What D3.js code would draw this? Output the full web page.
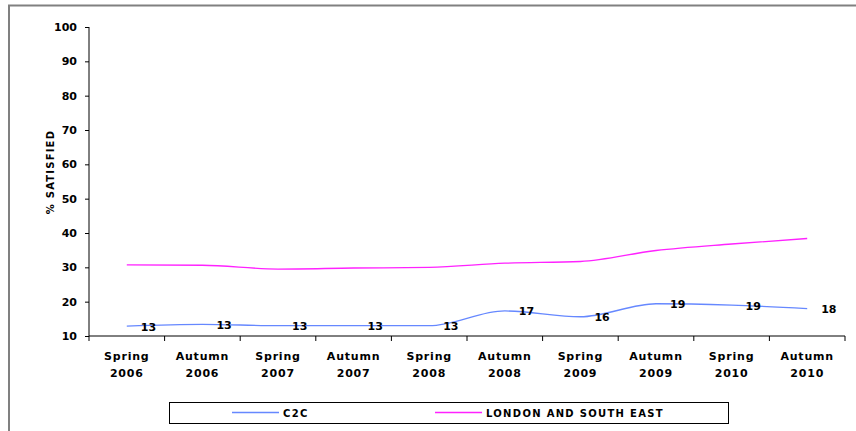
<!DOCTYPE html>
<html><head><meta charset="utf-8">
<script src="https://cdn.jsdelivr.net/npm/d3@7"></script>
<style>body{margin:0;background:#fff}svg{display:block}text{font-family:"DejaVu Sans",Arial,sans-serif;font-weight:bold;fill:#000}</style>
</head><body><svg id="c" width="856" height="431"></svg>
<script>
const categories = ["Spring 2006","Autumn 2006","Spring 2007","Autumn 2007","Spring 2008","Autumn 2008","Spring 2009","Autumn 2009","Spring 2010","Autumn 2010"];
const c2c = [12.9,13.4,13,13,13,17.3,15.6,19.4,19.0,18.0];
const c2cLabels = [13,13,13,13,13,17,16,19,19,18];
const lse = [30.7,30.6,29.5,29.8,30.0,31.2,31.7,34.9,36.8,38.4];
const yTicks = [10,20,30,40,50,60,70,80,90,100];
const seriesNames = ["C2C","LONDON AND SOUTH EAST"];
const colors = ["#6688ff","#ff22ff"];

const svg = d3.select("#c");
// outer frame
svg.append("rect").attr("x",9).attr("y",5.5).attr("width",900).attr("height",500)
  .attr("fill","none").attr("stroke","#808080").attr("stroke-width",2);

const x = d3.scaleBand().domain(categories).range([89,845]);
const y = d3.scaleLinear().domain([10,100]).range([336,27]);

const yAxis = svg.append("g").attr("transform","translate(89,0)")
  .call(d3.axisLeft(y).tickValues(yTicks).tickSize(4).tickPadding(8));
yAxis.select(".domain").attr("stroke","#000").attr("d","M0,27V336");
yAxis.selectAll("text").style("font-size","11px").attr("font-weight","bold");

const xAxis = svg.append("g").attr("transform","translate(0,336)")
  .call(d3.axisBottom(x).tickSize(0).tickFormat(""));
xAxis.select(".domain").attr("stroke","#000").attr("d","M89,0H845");
// boundary ticks between categories
const bounds = categories.map(c=>x(c)).concat([x.range()[1]]);
svg.append("g").selectAll("line").data(bounds).join("line")
  .attr("x1",d=>d).attr("x2",d=>d).attr("y1",336).attr("y2",341).attr("stroke","#000");
// category labels
const lbl = svg.append("g").selectAll("text").data(categories).join("text")
  .attr("x",d=>x(d)+x.bandwidth()/2).attr("text-anchor","middle")
  .style("font-size","11px").style("letter-spacing","0.8px");
lbl.append("tspan").attr("x",d=>x(d)+x.bandwidth()/2).attr("y",360).text(d=>d.split(" ")[0]);
lbl.append("tspan").attr("x",d=>x(d)+x.bandwidth()/2).attr("y",377).text(d=>d.split(" ")[1]);

// y title
svg.append("text").attr("transform","translate(54,172) rotate(-90)").attr("text-anchor","middle")
  .style("font-size","10px").style("letter-spacing","1.2px").text("% SATISFIED");

const cx = d=>x(d)+x.bandwidth()/2;
const line = d3.line().x((d,i)=>cx(categories[i])).y(d=>y(d)).curve(d3.curveMonotoneX);
svg.append("path").datum(lse).attr("d",line).attr("fill","none").attr("stroke",colors[1]).attr("stroke-width",1.3);
svg.append("path").datum(c2c).attr("d",line).attr("fill","none").attr("stroke",colors[0]).attr("stroke-width",1.3);

svg.append("g").selectAll("text").data(c2c).join("text")
  .attr("x",(d,i)=>cx(categories[i])+14).attr("y",d=>y(d)+4.5)
  .style("font-size","11px").text((d,i)=>c2cLabels[i]);

// legend
svg.append("rect").attr("x",169.5).attr("y",402.5).attr("width",559).attr("height",21)
  .attr("fill","#fff").attr("stroke","#000");
const legX = [232,435];
seriesNames.forEach((n,i)=>{
  svg.append("line").attr("x1",legX[i]).attr("x2",legX[i]+47).attr("y1",412.5).attr("y2",412.5)
    .attr("stroke",colors[i]).attr("stroke-width",1.3);
  svg.append("text").attr("x",legX[i]+51).attr("y",416.5).style("font-size","10px")
    .style("letter-spacing","1.3px").text(n);
});
</script></body></html>
